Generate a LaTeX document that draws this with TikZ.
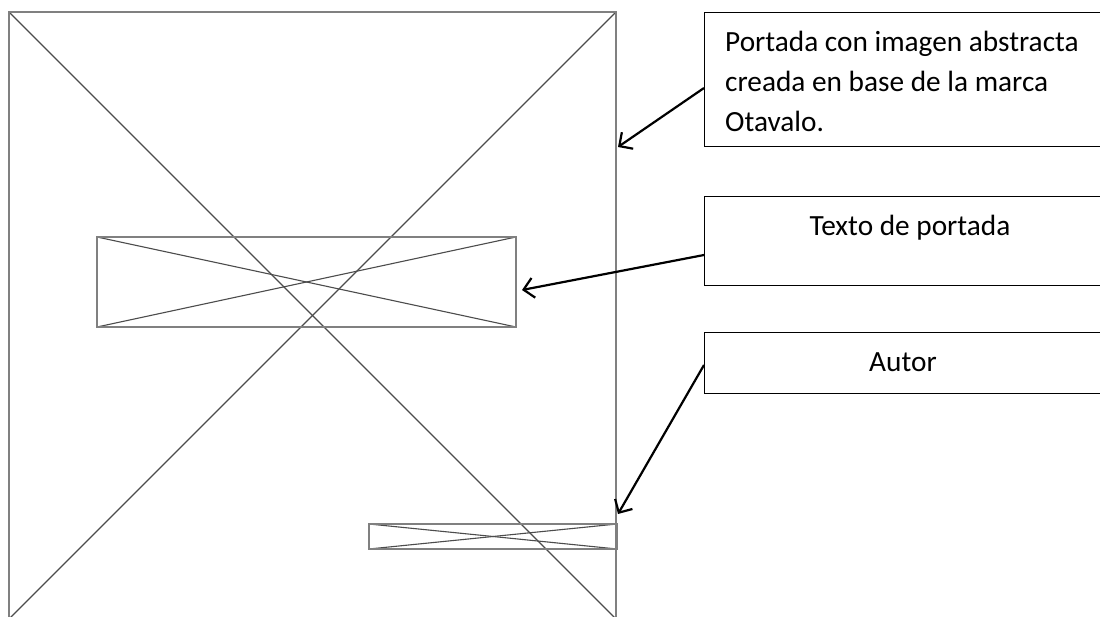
\documentclass[tikz,border=0pt]{standalone}
\usepackage{fontspec}
\setmainfont{Carlito}
\usetikzlibrary{arrows.meta}
\begin{document}
\begin{tikzpicture}[x=1pt,y=-1pt,
  frame/.style={draw=black!50, line width=1.6pt},
  cross/.style={draw=black!70, line width=1.1pt},
  callout/.style={draw=black, line width=1pt},
  lbl/.style={font=\fontsize{29.3}{40}\selectfont, inner sep=0pt, anchor=base west, align=left},
  pointer/.style={draw=black, line width=2.2pt, -{Straight Barb[length=10pt,width=20pt,line width=2.2pt]}}]
\useasboundingbox (0,0) rectangle (1100,617);
\clip (0,0) rectangle (1100,617);
\fill[white] (0,0) rectangle (1100,617);
% big placeholder
\coordinate (A1) at (9,12);
\coordinate (A2) at (616,12);
\coordinate (A3) at (616,619);
\coordinate (A4) at (9,619);
\draw[cross] (A1) -- (A3);
\draw[cross] (A2) -- (A4);
\draw[frame] (A1) -- (A2) -- (A3) -- (A4) -- cycle;
% title placeholder
\coordinate (B1) at (97,237);
\coordinate (B2) at (516,237);
\coordinate (B3) at (516,327);
\coordinate (B4) at (97,327);
\draw[cross] (B1) -- (B3);
\draw[cross] (B2) -- (B4);
\draw[frame] (B1) -- (B2) -- (B3) -- (B4) -- cycle;
% author placeholder
\coordinate (C1) at (369,524);
\coordinate (C2) at (617,524);
\coordinate (C3) at (617,549);
\coordinate (C4) at (369,549);
\draw[cross] (C1) -- (C3);
\draw[cross] (C2) -- (C4);
\draw[frame] (C1) -- (C2) -- (C3) -- (C4) -- cycle;
% callout boxes
\draw[callout] (1110,13) -- (704,13) -- (704,147) -- (1110,147);
\draw[callout] (1110,197) -- (704,197) -- (704,286) -- (1110,286);
\draw[callout] (1110,333) -- (704,333) -- (704,393) -- (1110,393);
\node[lbl] (t1) at (725,132) {Portada con imagen abstracta\\creada en base de la marca\\Otavalo.};
\node[lbl, anchor=base] (t2) at (910,236) {Texto de portada};
\node[lbl, anchor=base] (t3) at (903,372) {Autor};
% arrows
\coordinate (s1) at (704,88);
\coordinate (e1) at (618,147);
\coordinate (s2) at (704,255);
\coordinate (e2) at (522,290);
\coordinate (s3) at (704,365);
\coordinate (e3) at (618,514);
\draw[pointer] (s1) -- (e1);
\draw[pointer] (s2) -- (e2);
\draw[pointer] (s3) -- (e3);
\end{tikzpicture}
\end{document}
